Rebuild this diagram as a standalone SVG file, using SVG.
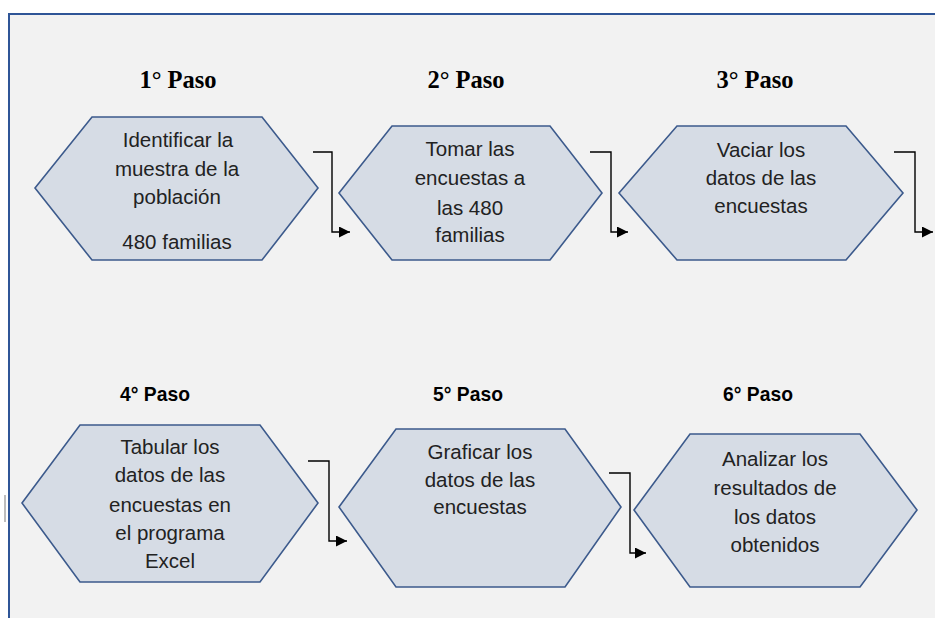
<svg xmlns="http://www.w3.org/2000/svg" width="935" height="618" viewBox="0 0 935 618">
<defs>
<marker id="ah" viewBox="0 0 10 10" refX="10" refY="5" markerWidth="11" markerHeight="11" markerUnits="userSpaceOnUse" orient="auto">
<path d="M0,0 L10,5 L0,10 z" fill="#000"/>
</marker>
<style>
.hex{fill:#D6DCE5;stroke:#3C5A8C;stroke-width:1.6}
.t{font-family:"Liberation Sans",Arial,sans-serif;font-size:20.5px;fill:#222;text-anchor:middle}
.h1{font-family:"Liberation Serif","Times New Roman",serif;font-size:24.5px;font-weight:bold;fill:#000;text-anchor:middle}
.h2{font-family:"Liberation Sans",Arial,sans-serif;font-size:19.3px;font-weight:bold;fill:#000;text-anchor:middle}
.c{fill:none;stroke:#000;stroke-width:1.4}
</style>
</defs>
<rect x="0" y="0" width="935" height="618" fill="#FFFFFF"/>
<rect x="9" y="14" width="940" height="620" fill="#F2F2F2"/>
<path d="M9,618 V14 H935" fill="none" stroke="#2F5597" stroke-width="2"/>
<line x1="5" y1="495" x2="5" y2="522" stroke="#BDBDBD" stroke-width="2"/>

<g id="title1"><text class="h1" x="178" y="88">1° Paso</text></g>
<g id="title2"><text class="h1" x="466" y="88">2° Paso</text></g>
<g id="title3"><text class="h1" x="755" y="88">3° Paso</text></g>
<g id="title4"><text class="h2" x="155" y="401">4° Paso</text></g>
<g id="title5"><text class="h2" x="468" y="401">5° Paso</text></g>
<g id="title6"><text class="h2" x="758" y="401">6° Paso</text></g>

<g id="node1">
<polygon class="hex" points="35,188 92,117 262,117 318,188 262,260 92,260"/>
<text class="t" x="178" y="147">Identificar la</text>
<text class="t" x="177" y="176">muestra de la</text>
<text class="t" x="177" y="204">población</text>
<text class="t" x="177" y="249">480 familias</text>
</g>
<g id="node2">
<polygon class="hex" points="339,193 392,126 550,126 602,193 550,260 392,260"/>
<text class="t" x="470" y="156">Tomar las</text>
<text class="t" x="470" y="185">encuestas a</text>
<text class="t" x="470" y="215">las 480</text>
<text class="t" x="470" y="242">familias</text>
</g>
<g id="node3">
<polygon class="hex" points="619,193 677,126 846,126 903,193 846,260 677,260"/>
<text class="t" x="761" y="157">Vaciar los</text>
<text class="t" x="761" y="185">datos de las</text>
<text class="t" x="761" y="213">encuestas</text>
</g>
<g id="node4">
<polygon class="hex" points="22,503 80,425 260,425 318,503 260,582 80,582"/>
<text class="t" x="170" y="454">Tabular los</text>
<text class="t" x="170" y="482">datos de las</text>
<text class="t" x="170" y="512">encuestas en</text>
<text class="t" x="170" y="540">el programa</text>
<text class="t" x="170" y="568">Excel</text>
</g>
<g id="node5">
<polygon class="hex" points="339,507 396,429 565,429 621,507 565,587 396,587"/>
<text class="t" x="480" y="459">Graficar los</text>
<text class="t" x="480" y="487">datos de las</text>
<text class="t" x="480" y="514">encuestas</text>
</g>
<g id="node6">
<polygon class="hex" points="634,510 690,434 860,434 917,510 860,587 690,587"/>
<text class="t" x="775" y="466">Analizar los</text>
<text class="t" x="775" y="495">resultados de</text>
<text class="t" x="775" y="524">los datos</text>
<text class="t" x="775" y="552">obtenidos</text>
</g>

<g id="connectors">
<path class="c" d="M313,152 H332 V232 H350" marker-end="url(#ah)"/>
<path class="c" d="M590,152 H611 V232 H628" marker-end="url(#ah)"/>
<path class="c" d="M894,152 H915 V232 H933" marker-end="url(#ah)"/>
<path class="c" d="M308,461 H329 V541 H347" marker-end="url(#ah)"/>
<path class="c" d="M609,473 H630 V553 H646" marker-end="url(#ah)"/>
</g>
</svg>
